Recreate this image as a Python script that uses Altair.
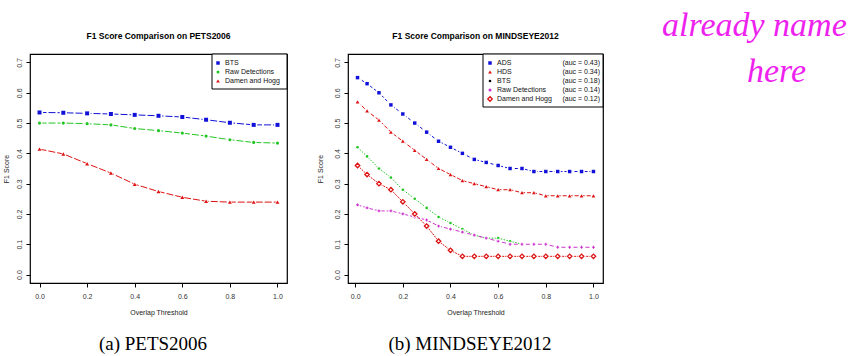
import altair as alt
import pandas as pd

# ---- PETS2006 ----
PETS_X = [0.0, 0.1, 0.2, 0.3, 0.4, 0.5, 0.6, 0.7, 0.8, 0.9, 1.0]
PETS_BTS = [0.535, 0.534, 0.532, 0.530, 0.527, 0.524, 0.520, 0.511, 0.501, 0.494, 0.494]
PETS_RAW = [0.500, 0.500, 0.498, 0.494, 0.482, 0.475, 0.467, 0.457, 0.445, 0.436, 0.434]
PETS_DAMEN = [0.414, 0.398, 0.366, 0.335, 0.298, 0.274, 0.255, 0.242, 0.239, 0.239, 0.239]

# ---- MINDSEYE2012 ----
MIND_X = [0.01, 0.05, 0.10, 0.15, 0.20, 0.25, 0.30, 0.35, 0.40, 0.45, 0.50,
          0.55, 0.60, 0.65, 0.70, 0.75, 0.80, 0.85, 0.90, 0.95, 1.00]
MIND_ADS = [0.65, 0.63, 0.60, 0.56, 0.53, 0.50, 0.47, 0.44, 0.42, 0.40, 0.38,
            0.37, 0.36, 0.35, 0.35, 0.34, 0.34, 0.34, 0.34, 0.34, 0.34]
MIND_HDS = [0.57, 0.54, 0.51, 0.47, 0.44, 0.41, 0.38, 0.35, 0.33, 0.31, 0.30,
            0.29, 0.28, 0.28, 0.27, 0.27, 0.26, 0.26, 0.26, 0.26, 0.26]
MIND_BTS = [0.42, 0.39, 0.35, 0.32, 0.28, 0.25, 0.22, 0.19, 0.17, 0.15, 0.13,
            0.12, 0.12, 0.11, 0.10]
MIND_RAW = [0.23, 0.22, 0.21, 0.21, 0.20, 0.19, 0.18, 0.16, 0.15, 0.14, 0.13,
            0.12, 0.11, 0.10, 0.10, 0.10, 0.10, 0.09, 0.09, 0.09, 0.09]
MIND_DAMEN = [0.36, 0.33, 0.30, 0.28, 0.24, 0.20, 0.16, 0.11, 0.08, 0.06, 0.06,
              0.06, 0.06, 0.06, 0.06, 0.06, 0.06, 0.06, 0.06, 0.06, 0.06]

PETS_NAMES = ["BTS", "Raw Detections", "Damen and Hogg"]
MIND_NAMES = ["ADS", "HDS", "BTS", "Raw Detections", "Damen and Hogg"]
MIND_AUC = ["(auc = 0.43)", "(auc = 0.34)", "(auc = 0.18)", "(auc = 0.14)", "(auc = 0.12)"]

X_TICKS = [0.0, 0.2, 0.4, 0.6, 0.8, 1.0]
Y_TICKS = [0.0, 0.1, 0.2, 0.3, 0.4, 0.5, 0.6, 0.7]
Y_DOMAIN = [-0.028, 0.728]

BLUE = "#1010d8"
RED = "#dd1111"
GREEN = "#22c622"
MAGENTA = "#cc33cc"
FONT = "Liberation Sans"
SERIF = "Liberation Serif"

W_LEFT, W_RIGHT, H = 257, 255, 229


def x_axis():
    return alt.Axis(values=X_TICKS, format=".1f", grid=False, domain=False,
                    tickColor="black", tickSize=4, labelFontSize=7, labelColor="#333",
                    labelPadding=5, labelFont=FONT, title="Overlap Threshold",
                    titleFontSize=7, titleFontWeight="normal", titleFont=FONT,
                    titleColor="#222", titlePadding=9)


def y_axis(title_pad):
    return alt.Axis(values=Y_TICKS, format=".1f", grid=False, domain=False,
                    tickColor="black", tickSize=4, labelFontSize=7, labelColor="#333",
                    labelAngle=270, labelAlign="center", labelBaseline="bottom",
                    labelPadding=4, labelFont=FONT, title="F1 Score",
                    titleFontSize=7, titleFontWeight="normal", titleFont=FONT,
                    titleColor="#222", titlePadding=title_pad)


def series(xs, ys, xdom, color, shape, size, dash, title_pad, filled=True):
    df = pd.DataFrame({"x": xs[:len(ys)], "y": ys})
    xs_ = alt.Scale(domain=xdom, nice=False, zero=False)
    ys_ = alt.Scale(domain=Y_DOMAIN, nice=False, zero=False)
    enc = dict(
        x=alt.X("x:Q", scale=xs_, axis=x_axis()),
        y=alt.Y("y:Q", scale=ys_, axis=y_axis(title_pad)),
    )
    base = alt.Chart(df)
    line = base.mark_line(color=color, strokeWidth=1, strokeDash=dash).encode(**enc)
    halo = base.mark_point(shape=shape, size=size * 3.2, filled=True, color="white",
                           opacity=1).encode(**enc)
    pts = base.mark_point(shape=shape, size=size, filled=filled, color=color, opacity=1,
                          strokeWidth=1.3).encode(**enc)
    return [line, halo, pts]


def one_row():
    return alt.Chart(pd.DataFrame({"k": [0]}))


def legend(x0, x1, n, entries, sym_x, text_x, auc=None, auc_x=None):
    layers = [one_row().mark_rect(fill="white", stroke="black", strokeWidth=1).encode(
        x=alt.value(x0), x2=alt.value(x1), y=alt.value(0), y2=alt.value(9 * n + 8))]
    for i, (name, color, shape, size, filled) in enumerate(entries):
        yy = 9 + 9 * i
        layers.append(one_row().mark_point(shape=shape, size=size, filled=filled,
                                           color=color, opacity=1, strokeWidth=1.3).encode(
            x=alt.value(sym_x), y=alt.value(yy)))
        layers.append(one_row().mark_text(text=name, font=FONT, fontSize=7, align="left",
                                          baseline="middle", color="#111").encode(
            x=alt.value(text_x), y=alt.value(yy)))
        if auc:
            layers.append(one_row().mark_text(text=auc[i], font=FONT, fontSize=7,
                                              align="right", baseline="middle",
                                              color="#111").encode(
                x=alt.value(auc_x), y=alt.value(yy)))
    return layers


def title_text(text, cx):
    return one_row().mark_text(text=text, font=FONT, fontSize=8.5, fontWeight="bold",
                               baseline="middle", align="center", color="black").encode(
        x=alt.value(cx), y=alt.value(-18))


def caption(text, cx):
    return one_row().mark_text(text=text, font=SERIF, fontSize=19, baseline="middle",
                               align="center", color="black").encode(
        x=alt.value(cx), y=alt.value(290))


# ---- left panel: PETS2006 ----
LX = [-0.04, 1.04]
left_layers = []
left_layers += series(PETS_X, PETS_BTS, LX, BLUE, "square", 16, [7, 2], 6)
left_layers += series(PETS_X, PETS_RAW, LX, GREEN, "circle", 10, [7, 2], 6)
left_layers += series(PETS_X, PETS_DAMEN, LX, RED, "triangle-up", 16, [7, 2], 6)
left_layers += legend(182, 257, 3, [
    ("BTS", BLUE, "square", 12, True),
    ("Raw Detections", GREEN, "circle", 9, True),
    ("Damen and Hogg", RED, "triangle-up", 14, True),
], 188, 195)
left_layers.append(title_text("F1 Score Comparison on PETS2006", W_LEFT / 2))
left_layers.append(caption("(a) PETS2006", 123))
# fixes the top-left corner of the drawing
left_layers.append(one_row().mark_point(opacity=0, size=1).encode(
    x=alt.value(-30), y=alt.value(-52)))

left = alt.layer(*left_layers).properties(width=W_LEFT, height=H)

# ---- right panel: MINDSEYE2012 ----
RX = [-0.03, 1.04]
right_layers = []
right_layers += series(MIND_X, MIND_ADS, RX, BLUE, "square", 12, [3, 2], 10)
right_layers += series(MIND_X, MIND_HDS, RX, RED, "triangle-up", 14, [4, 2], 10)
right_layers += series(MIND_X, MIND_BTS, RX, GREEN, "circle", 7, [1.5, 1.5], 10)
right_layers += series(MIND_X, MIND_RAW, RX, MAGENTA, "cross", 8, [4, 2], 10)
right_layers += series(MIND_X, MIND_DAMEN, RX, RED, "diamond", 20, [2, 1], 10, filled=False)
right_layers += legend(135, 255, 5, [
    ("ADS", BLUE, "square", 12, True),
    ("HDS", RED, "triangle-up", 14, True),
    ("BTS", "black", "circle", 7, True),
    ("Raw Detections", MAGENTA, "circle", 9, True),
    ("Damen and Hogg", RED, "diamond", 20, False),
], 142, 149, MIND_AUC, 252)
right_layers.append(title_text("F1 Score Comparison on MINDSEYE2012", W_RIGHT / 2))
right_layers.append(caption("(b) MINDSEYE2012", 122))
# handwritten margin note
right_layers.append(one_row().mark_text(text="already name", font=SERIF, fontSize=34,
                                        fontStyle="italic", align="left",
                                        baseline="middle", color="#ee22ee").encode(
    x=alt.value(314), y=alt.value(-28)))
right_layers.append(one_row().mark_text(text="here", font=SERIF, fontSize=34,
                                        fontStyle="italic", align="left",
                                        baseline="middle", color="#ee22ee").encode(
    x=alt.value(399), y=alt.value(18)))

right = alt.layer(*right_layers).properties(width=W_RIGHT, height=H)

chart = alt.hconcat(left, right, spacing=61, bounds="flush").properties(
    padding={"left": -2, "top": 0, "right": 0, "bottom": 0},
    background="white",
).configure_view(stroke="black", strokeWidth=1.2)

chart.save("out.html", embed_options={"renderer": "svg", "actions": False})
